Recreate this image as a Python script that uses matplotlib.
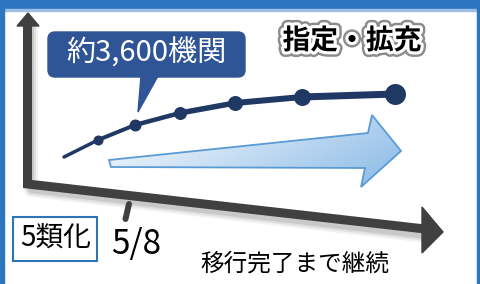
import matplotlib.pyplot as plt
import numpy as np
from matplotlib.patches import Polygon, FancyBboxPatch, Rectangle
import matplotlib.patheffects as pe

plt.rcParams['font.family'] = ['Noto Sans CJK JP', 'DejaVu Sans']

# growth line (x, y in picture units, y grows downward)
line_x = [64, 98, 135, 180, 235, 302, 395]
line_y = [157, 140, 125, 113, 103, 97, 94]
marker_px = [0, 10, 12, 13, 15, 17, 21]
seg_px = [3.5, 4, 4.5, 5.5, 6, 7]

callout_text = "約3,600機関"
title_text = "指定・拡充"
box_text = "5類化"
date_text = "5/8"
note_text = "移行完了まで継続"

navy = '#203864'
axis_col = '#404040'
frame_col = '#2E75C0'

PX = 0.72  # points per pixel at dpi 100

fig = plt.figure(figsize=(4.81, 2.84), dpi=100)
ax = fig.add_axes([0, 0, 1, 1])
ax.set_xlim(0, 481)
ax.set_ylim(284, 0)
ax.axis('off')

# frame
ax.add_patch(Rectangle((0, 0), 481, 9, color=frame_col, zorder=1))
ax.add_patch(Rectangle((0, 9), 481, 1.5, color='#9DBFE3', zorder=1))
ax.add_patch(Rectangle((0, 0), 4, 284, color=frame_col, zorder=1))
ax.add_patch(Rectangle((477, 0), 4, 284, color=frame_col, zorder=1))

# axes shadow
for k, a in zip([14, 10, 6], [0.05, 0.07, 0.1]):
    ax.plot([31, 31, 426], [28, 190, 236], color='black', lw=k * PX, alpha=a,
            solid_joinstyle='round', solid_capstyle='round', zorder=2)

# axes
ax.plot([27.5, 27.5, 425], [24, 184, 229], color=axis_col, lw=9 * PX,
        solid_joinstyle='miter', zorder=3)
ax.add_patch(Polygon([(17, 26), (39, 26), (28, 13)], color=axis_col, zorder=3))
ax.add_patch(Polygon([(422, 207), (422, 253), (443, 232)], color=axis_col, zorder=3))
ax.plot([129, 125.5], [204, 219], color=axis_col, lw=6 * PX,
        solid_capstyle='round', zorder=3)

# blue gradient arrow
arrow_pts = [(109, 160), (368, 133), (372, 115), (401, 151),
             (361, 187), (365, 168), (111, 167)]
arrow = Polygon(arrow_pts, closed=True, facecolor='none', edgecolor='#5B9BD5',
                lw=1.3, zorder=5)
gx, gy = np.meshgrid(np.linspace(0, 1, 200), np.linspace(0, 1, 100))
grad = np.clip(0.75 * gx + 0.35 * gy, 0, 1)
c0 = np.array([1.0, 1.0, 1.0])
c1 = np.array([0x92, 0xBF, 0xE8]) / 255
img = c0 + (c1 - c0) * grad[..., None]
im = ax.imshow(img, extent=(105, 405, 190, 112), aspect='auto', zorder=4)
bg = Polygon(arrow_pts, closed=True, transform=ax.transData)
im.set_clip_path(bg)
ax.add_patch(arrow)
ax.set_xlim(0, 481)
ax.set_ylim(284, 0)

# growth line
for i in range(len(line_x) - 1):
    ax.plot(line_x[i:i + 2], line_y[i:i + 2], color=navy, lw=seg_px[i] * PX,
            solid_capstyle='round', zorder=6)
for x, y, s in zip(line_x[1:], line_y[1:], marker_px[1:]):
    ax.plot(x, y, 'o', color=navy, ms=s * PX, mew=0, zorder=7)

# callout
ax.add_patch(FancyBboxPatch((48, 32), 197, 45,
                            boxstyle='round,pad=0,rounding_size=7',
                            color='#2F5597', zorder=8))
ax.add_patch(Polygon([(141, 76), (158, 76), (138, 112)], color='#2F5597', zorder=8))
ax.text(146, 54, callout_text, color='white', fontsize=21, ha='center',
        va='center', zorder=9)

# title
ax.text(352, 41, title_text, color='black', fontsize=20, fontweight='bold',
        ha='center', va='center', zorder=9,
        path_effects=[pe.Stroke(linewidth=8, foreground='#8C8C8C'),
                      pe.Stroke(linewidth=4.5, foreground='white'), pe.Normal()])

# bottom labels
ax.add_patch(Rectangle((13, 217), 84, 44, facecolor='white', edgecolor='#2E75B6',
                       lw=1.5, zorder=8))
ax.text(56, 238, box_text, fontsize=20, ha='center', va='center', zorder=9)
ax.text(136, 244, date_text, fontsize=24, ha='center', va='center', zorder=9)
ax.text(295, 264, note_text, fontsize=17, ha='center', va='center', zorder=9)

fig.savefig('out.png', dpi=100)
